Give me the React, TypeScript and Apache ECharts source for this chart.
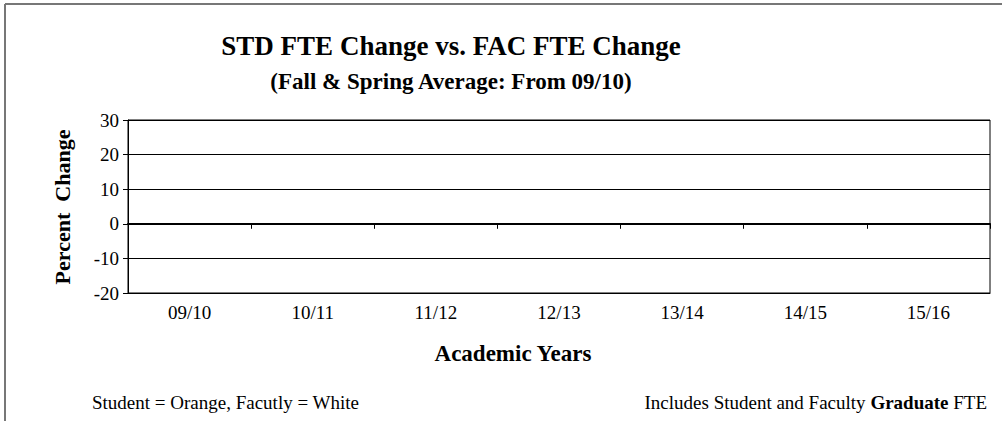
import React, { useEffect, useRef } from "react";
import * as echarts from "echarts";

const categories = ["09/10", "10/11", "11/12", "12/13", "13/14", "14/15", "15/16"];
const studentChange: (number | null)[] = [null, null, null, null, null, null, null];
const facultyChange: (number | null)[] = [null, null, null, null, null, null, null];
const yMin = -20;
const yMax = 30;
const yStep = 10;

const FONT = "'Liberation Serif', 'Times New Roman', serif";

export default function App() {
  const ref = useRef<HTMLDivElement>(null);
  useEffect(() => {
    if (!ref.current) return;
    const chart = echarts.init(ref.current, undefined, { renderer: "svg" });
    chart.setOption({
      animation: false,
      backgroundColor: "#fff",
      grid: {
        left: 128,
        right: 12,
        top: 120,
        bottom: 128,
        show: true,
        borderColor: "#000",
        borderWidth: 1,
        backgroundColor: "transparent",
      },
      xAxis: [
        {
          type: "category",
          data: categories,
          position: "bottom",
          axisLine: { onZero: false, show: true, lineStyle: { color: "#000", width: 1 } },
          axisTick: { show: false },
          axisLabel: { color: "#000", fontFamily: FONT, fontSize: 19, margin: 10 },
          splitLine: { show: false },
        },
        {
          type: "category",
          data: categories,
          position: "bottom",
          axisLine: { onZero: true, show: true, lineStyle: { color: "#000", width: 2 } },
          axisTick: { show: true, inside: false, length: 5, lineStyle: { color: "#000", width: 1 } },
          axisLabel: { show: false },
          splitLine: { show: false },
        },
      ],
      yAxis: {
        type: "value",
        min: yMin,
        max: yMax,
        interval: yStep,
        axisLine: { show: true, lineStyle: { color: "#000", width: 1 } },
        axisTick: { show: true, length: 5, lineStyle: { color: "#000" } },
        axisLabel: { color: "#000", fontFamily: FONT, fontSize: 19, margin: 9 },
        splitLine: { show: true, lineStyle: { color: "#000", width: 1 } },
      },
      series: [
        { name: "Student", type: "bar", data: studentChange, itemStyle: { color: "#FF9900", borderColor: "#000" } },
        { name: "Faculty", type: "bar", data: facultyChange, itemStyle: { color: "#FFFFFF", borderColor: "#000" } },
      ],
      graphic: [
        { type: "line", shape: { x1: 5, y1: 4, x2: 1002, y2: 4 }, style: { stroke: "#777", lineWidth: 2 } },
        { type: "line", shape: { x1: 5, y1: 4, x2: 5, y2: 421 }, style: { stroke: "#777", lineWidth: 2 } },
        {
          type: "text",
          x: 451,
          y: 46,
          style: {
            text: "STD FTE Change vs. FAC FTE Change",
            font: `bold 27px ${FONT}`,
            fill: "#000",
            align: "center",
            verticalAlign: "middle",
          },
        },
        {
          type: "text",
          x: 451,
          y: 81,
          style: {
            text: "(Fall & Spring Average: From 09/10)",
            font: `bold 23px ${FONT}`,
            fill: "#000",
            align: "center",
            verticalAlign: "middle",
          },
        },
        {
          type: "text",
          x: 62,
          y: 207,
          rotation: Math.PI / 2,
          style: {
            text: "Percent  Change",
            font: `bold 22px ${FONT}`,
            fill: "#000",
            align: "center",
            verticalAlign: "middle",
          },
        },
        {
          type: "text",
          x: 513,
          y: 353,
          style: {
            text: "Academic Years",
            font: `bold 23px ${FONT}`,
            fill: "#000",
            align: "center",
            verticalAlign: "middle",
          },
        },
        {
          type: "text",
          x: 92,
          y: 402,
          style: {
            text: "Student = Orange, Facutly = White",
            font: `19px ${FONT}`,
            fill: "#000",
            align: "left",
            verticalAlign: "middle",
          },
        },
        {
          type: "text",
          x: 987,
          y: 402,
          style: {
            text: "Includes Student and Faculty {b|Graduate} FTE",
            font: `19px ${FONT}`,
            fill: "#000",
            align: "right",
            verticalAlign: "middle",
            rich: { b: { font: `bold 19px ${FONT}`, fill: "#000" } },
          },
        },
      ],
    });
    return () => chart.dispose();
  }, []);
  return <div ref={ref} style={{ width: 1002, height: 421, position: "absolute", left: 0, top: 0 }} />;
}
